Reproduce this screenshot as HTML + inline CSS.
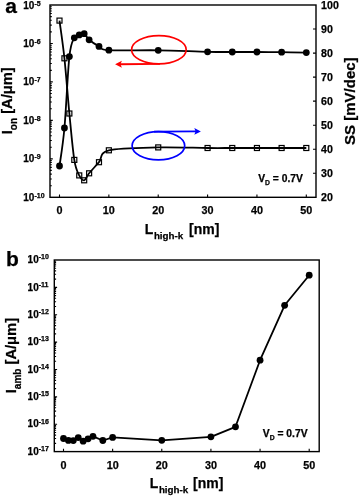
<!DOCTYPE html>
<html><head><meta charset="utf-8"><title>figure</title>
<style>
html,body{margin:0;padding:0;background:#fff;}
body{width:359px;height:496px;overflow:hidden;font-family:"Liberation Sans", sans-serif;}
svg{display:block;will-change:transform;}
</style></head><body>
<svg width="359" height="496" viewBox="0 0 359 496"><rect x="50.00" y="5.00" width="266.00" height="192.30" fill="none" stroke="#000" stroke-width="1.40"/>
<path d="M59.50 197.30 V194.50 M108.86 197.30 V194.50 M158.22 197.30 V194.50 M207.58 197.30 V194.50 M256.94 197.30 V194.50 M306.30 197.30 V194.50 M50.00 185.72 H51.80 M50.00 178.95 H51.80 M50.00 174.14 H51.80 M50.00 170.42 H51.80 M50.00 167.37 H51.80 M50.00 164.80 H51.80 M50.00 162.57 H51.80 M50.00 160.60 H51.80 M50.00 158.84 H52.80 M50.00 147.26 H51.80 M50.00 140.49 H51.80 M50.00 135.68 H51.80 M50.00 131.96 H51.80 M50.00 128.91 H51.80 M50.00 126.34 H51.80 M50.00 124.11 H51.80 M50.00 122.14 H51.80 M50.00 120.38 H52.80 M50.00 108.80 H51.80 M50.00 102.03 H51.80 M50.00 97.22 H51.80 M50.00 93.50 H51.80 M50.00 90.45 H51.80 M50.00 87.88 H51.80 M50.00 85.65 H51.80 M50.00 83.68 H51.80 M50.00 81.92 H52.80 M50.00 70.34 H51.80 M50.00 63.57 H51.80 M50.00 58.76 H51.80 M50.00 55.04 H51.80 M50.00 51.99 H51.80 M50.00 49.42 H51.80 M50.00 47.19 H51.80 M50.00 45.22 H51.80 M50.00 43.46 H52.80 M50.00 31.88 H51.80 M50.00 25.11 H51.80 M50.00 20.30 H51.80 M50.00 16.58 H51.80 M50.00 13.53 H51.80 M50.00 10.96 H51.80 M50.00 8.73 H51.80 M50.00 6.76 H51.80 M316.00 173.26 H313.00 M316.00 149.23 H313.00 M316.00 125.19 H313.00 M316.00 101.15 H313.00 M316.00 77.11 H313.00 M316.00 53.08 H313.00 M316.00 29.04 H313.00" stroke="#000" stroke-width="1.1" fill="none"/>
<path d="M59.50 166.00 C60.32 159.67 62.79 146.23 64.44 128.00 C66.08 109.77 67.73 71.63 69.37 56.60 C71.02 41.57 72.66 41.42 74.31 37.80 C75.95 34.18 77.60 35.58 79.24 34.90 C80.89 34.22 82.53 32.88 84.18 33.70 C85.83 34.52 86.65 37.68 89.12 39.80 C91.58 41.92 95.70 44.67 98.99 46.40 C102.28 48.13 98.99 49.55 108.86 50.20 C118.73 50.85 141.77 50.03 158.22 50.30 C174.67 50.57 195.24 51.52 207.58 51.80 C219.92 52.08 224.03 51.97 232.26 52.00 C240.49 52.03 248.71 51.97 256.94 52.00 C265.17 52.03 273.39 52.10 281.62 52.20 C289.85 52.30 302.19 52.53 306.30 52.60" stroke="#000" stroke-width="1.8" fill="none"/>
<path d="M59.50 20.60 C60.32 26.88 62.79 42.82 64.44 58.30 C66.08 73.78 67.73 96.57 69.37 113.50 C71.02 130.43 72.66 149.58 74.31 159.90 C75.95 170.22 77.60 172.00 79.24 175.40 C80.89 178.80 82.53 180.65 84.18 180.30 C85.83 179.95 86.65 176.32 89.12 173.30 C91.58 170.28 95.70 166.03 98.99 162.20 C102.28 158.37 98.99 152.77 108.86 150.30 C118.73 147.83 141.77 147.78 158.22 147.40 C174.67 147.02 195.24 147.90 207.58 148.00 C219.92 148.10 224.03 148.00 232.26 148.00 C240.49 148.00 248.71 148.00 256.94 148.00 C265.17 148.00 273.39 148.00 281.62 148.00 C289.85 148.00 302.19 148.00 306.30 148.00" stroke="#000" stroke-width="1.8" fill="none"/>
<rect x="57.00" y="18.10" width="5" height="5" fill="none" stroke="#000" stroke-width="1.2"/>
<rect x="61.94" y="55.80" width="5" height="5" fill="none" stroke="#000" stroke-width="1.2"/>
<rect x="66.87" y="111.00" width="5" height="5" fill="none" stroke="#000" stroke-width="1.2"/>
<rect x="71.81" y="157.40" width="5" height="5" fill="none" stroke="#000" stroke-width="1.2"/>
<rect x="76.74" y="172.90" width="5" height="5" fill="none" stroke="#000" stroke-width="1.2"/>
<rect x="81.68" y="177.80" width="5" height="5" fill="none" stroke="#000" stroke-width="1.2"/>
<rect x="86.62" y="170.80" width="5" height="5" fill="none" stroke="#000" stroke-width="1.2"/>
<rect x="96.49" y="159.70" width="5" height="5" fill="none" stroke="#000" stroke-width="1.2"/>
<rect x="106.36" y="147.80" width="5" height="5" fill="none" stroke="#000" stroke-width="1.2"/>
<rect x="155.72" y="144.90" width="5" height="5" fill="none" stroke="#000" stroke-width="1.2"/>
<rect x="205.08" y="145.50" width="5" height="5" fill="none" stroke="#000" stroke-width="1.2"/>
<rect x="229.76" y="145.50" width="5" height="5" fill="none" stroke="#000" stroke-width="1.2"/>
<rect x="254.44" y="145.50" width="5" height="5" fill="none" stroke="#000" stroke-width="1.2"/>
<rect x="279.12" y="145.50" width="5" height="5" fill="none" stroke="#000" stroke-width="1.2"/>
<rect x="303.80" y="145.50" width="5" height="5" fill="none" stroke="#000" stroke-width="1.2"/>
<circle cx="59.50" cy="166.00" r="3.4" fill="#000"/>
<circle cx="64.44" cy="128.00" r="3.4" fill="#000"/>
<circle cx="69.37" cy="56.60" r="3.4" fill="#000"/>
<circle cx="74.31" cy="37.80" r="3.4" fill="#000"/>
<circle cx="79.24" cy="34.90" r="3.4" fill="#000"/>
<circle cx="84.18" cy="33.70" r="3.4" fill="#000"/>
<circle cx="89.12" cy="39.80" r="3.4" fill="#000"/>
<circle cx="98.99" cy="46.40" r="3.4" fill="#000"/>
<circle cx="108.86" cy="50.20" r="3.4" fill="#000"/>
<circle cx="158.22" cy="50.30" r="3.4" fill="#000"/>
<circle cx="207.58" cy="51.80" r="3.4" fill="#000"/>
<circle cx="232.26" cy="52.00" r="3.4" fill="#000"/>
<circle cx="256.94" cy="52.00" r="3.4" fill="#000"/>
<circle cx="281.62" cy="52.20" r="3.4" fill="#000"/>
<circle cx="306.30" cy="52.60" r="3.4" fill="#000"/>
<ellipse cx="158.9" cy="49.75" rx="27.3" ry="14.15" fill="none" stroke="#fe0000" stroke-width="1.6"/>
<path d="M160 63.9 L120 64.3" stroke="#fe0000" stroke-width="1.9" fill="none"/>
<path d="M115.1 64.3 L121.9 60.8 L120.5 64.3 L121.9 67.8 Z" fill="#fe0000"/>
<ellipse cx="158.4" cy="145.75" rx="26.3" ry="14.15" fill="none" stroke="#0000fe" stroke-width="1.7"/>
<path d="M154 131.6 L196 131.4" stroke="#0000fe" stroke-width="1.9" fill="none"/>
<path d="M200.9 131.4 L194.3 128.1 L195.6 131.4 L194.3 134.7 Z" fill="#0000fe"/>
<rect x="54.30" y="260.00" width="264.90" height="191.60" fill="none" stroke="#000" stroke-width="1.40"/>
<path d="M63.50 451.60 V448.80 M112.64 451.60 V448.80 M161.78 451.60 V448.80 M210.92 451.60 V448.80 M260.06 451.60 V448.80 M309.20 451.60 V448.80 M54.30 443.36 H56.10 M54.30 438.54 H56.10 M54.30 435.12 H56.10 M54.30 432.47 H56.10 M54.30 430.30 H56.10 M54.30 428.47 H56.10 M54.30 426.88 H56.10 M54.30 425.48 H56.10 M54.30 424.23 H57.10 M54.30 415.99 H56.10 M54.30 411.17 H56.10 M54.30 407.75 H56.10 M54.30 405.10 H56.10 M54.30 402.93 H56.10 M54.30 401.10 H56.10 M54.30 399.51 H56.10 M54.30 398.11 H56.10 M54.30 396.86 H57.10 M54.30 388.62 H56.10 M54.30 383.80 H56.10 M54.30 380.38 H56.10 M54.30 377.73 H56.10 M54.30 375.56 H56.10 M54.30 373.73 H56.10 M54.30 372.14 H56.10 M54.30 370.74 H56.10 M54.30 369.49 H57.10 M54.30 361.25 H56.10 M54.30 356.43 H56.10 M54.30 353.01 H56.10 M54.30 350.35 H56.10 M54.30 348.19 H56.10 M54.30 346.35 H56.10 M54.30 344.77 H56.10 M54.30 343.37 H56.10 M54.30 342.11 H57.10 M54.30 333.87 H56.10 M54.30 329.05 H56.10 M54.30 325.64 H56.10 M54.30 322.98 H56.10 M54.30 320.82 H56.10 M54.30 318.98 H56.10 M54.30 317.40 H56.10 M54.30 316.00 H56.10 M54.30 314.74 H57.10 M54.30 306.50 H56.10 M54.30 301.68 H56.10 M54.30 298.26 H56.10 M54.30 295.61 H56.10 M54.30 293.44 H56.10 M54.30 291.61 H56.10 M54.30 290.02 H56.10 M54.30 288.62 H56.10 M54.30 287.37 H57.10 M54.30 279.13 H56.10 M54.30 274.31 H56.10 M54.30 270.89 H56.10 M54.30 268.24 H56.10 M54.30 266.07 H56.10 M54.30 264.24 H56.10 M54.30 262.65 H56.10 M54.30 261.25 H56.10" stroke="#000" stroke-width="1.1" fill="none"/>
<path d="M63.50 438.50 L68.41 440.40 L73.33 440.60 L78.24 437.60 L83.16 441.20 L88.07 438.80 L92.98 436.30 L102.81 440.50 L112.64 437.40 L161.78 440.30 L210.92 436.80 L235.49 426.80 L260.06 360.20 L284.63 305.30 L309.20 275.20" stroke="#000" stroke-width="1.8" fill="none" stroke-linejoin="round"/>
<circle cx="63.50" cy="438.50" r="3.4" fill="#000"/>
<circle cx="68.41" cy="440.40" r="3.4" fill="#000"/>
<circle cx="73.33" cy="440.60" r="3.4" fill="#000"/>
<circle cx="78.24" cy="437.60" r="3.4" fill="#000"/>
<circle cx="83.16" cy="441.20" r="3.4" fill="#000"/>
<circle cx="88.07" cy="438.80" r="3.4" fill="#000"/>
<circle cx="92.98" cy="436.30" r="3.4" fill="#000"/>
<circle cx="102.81" cy="440.50" r="3.4" fill="#000"/>
<circle cx="112.64" cy="437.40" r="3.4" fill="#000"/>
<circle cx="161.78" cy="440.30" r="3.4" fill="#000"/>
<circle cx="210.92" cy="436.80" r="3.4" fill="#000"/>
<circle cx="235.49" cy="426.80" r="3.4" fill="#000"/>
<circle cx="260.06" cy="360.20" r="3.4" fill="#000"/>
<circle cx="284.63" cy="305.30" r="3.4" fill="#000"/>
<circle cx="309.20" cy="275.20" r="3.4" fill="#000"/><g font-family='"Liberation Sans", sans-serif' font-weight="bold" fill="#000" stroke="#000" stroke-width="0.25"><text x="5.2" y="12.9" font-size="21">a</text>
<text x="23.3" y="8.90" font-size="10">10<tspan font-size="7" dy="-3.1">-5</tspan></text>
<text x="23.3" y="46.86" font-size="10">10<tspan font-size="7" dy="-3.1">-6</tspan></text>
<text x="23.3" y="85.32" font-size="10">10<tspan font-size="7" dy="-3.1">-7</tspan></text>
<text x="23.3" y="123.78" font-size="10">10<tspan font-size="7" dy="-3.1">-8</tspan></text>
<text x="23.3" y="162.24" font-size="10">10<tspan font-size="7" dy="-3.1">-9</tspan></text>
<text x="23.3" y="200.70" font-size="10">10<tspan font-size="7" dy="-3.1">-10</tspan></text>
<text x="321.1" y="201.00" font-size="10.6">20</text>
<text x="321.1" y="176.96" font-size="10.6">30</text>
<text x="321.1" y="152.93" font-size="10.6">40</text>
<text x="321.1" y="128.89" font-size="10.6">50</text>
<text x="321.1" y="104.85" font-size="10.6">60</text>
<text x="321.1" y="80.81" font-size="10.6">70</text>
<text x="321.1" y="56.78" font-size="10.6">80</text>
<text x="321.1" y="32.74" font-size="10.6">90</text>
<text x="321.1" y="8.70" font-size="10.6">100</text>
<text x="59.50" y="214.3" font-size="10.8" text-anchor="middle">0</text>
<text x="108.86" y="214.3" font-size="10.8" text-anchor="middle">10</text>
<text x="158.22" y="214.3" font-size="10.8" text-anchor="middle">20</text>
<text x="207.58" y="214.3" font-size="10.8" text-anchor="middle">30</text>
<text x="256.94" y="214.3" font-size="10.8" text-anchor="middle">40</text>
<text x="306.30" y="214.3" font-size="10.8" text-anchor="middle">50</text>
<text y="233.9" font-size="14"><tspan x="144.8">L</tspan><tspan x="153.9" font-size="9.8" dy="5">high-k</tspan><tspan x="189" dy="-5">[nm]</tspan></text>
<text transform="translate(11.5 100.8) rotate(-90)" font-size="14.7" text-anchor="middle">I<tspan font-size="10" dy="5">on</tspan><tspan dy="-5"> [A/μm]</tspan></text>
<text transform="translate(355.1 101.2) rotate(-90)" font-size="15" text-anchor="middle">SS [mV/dec]</text>
<text x="258.2" y="181.7" font-size="10.3">V<tspan font-size="6.8" dy="3">D</tspan><tspan dy="-3"> = 0.7V</tspan></text>
<text x="5.9" y="265.5" font-size="21">b</text>
<text x="27.6" y="263.20" font-size="10">10<tspan font-size="7" dy="-3.9">-10</tspan></text>
<text x="27.6" y="290.57" font-size="10">10<tspan font-size="7" dy="-3.9">-11</tspan></text>
<text x="27.6" y="317.94" font-size="10">10<tspan font-size="7" dy="-3.9">-12</tspan></text>
<text x="27.6" y="345.31" font-size="10">10<tspan font-size="7" dy="-3.9">-13</tspan></text>
<text x="27.6" y="372.69" font-size="10">10<tspan font-size="7" dy="-3.9">-14</tspan></text>
<text x="27.6" y="400.06" font-size="10">10<tspan font-size="7" dy="-3.9">-15</tspan></text>
<text x="27.6" y="427.43" font-size="10">10<tspan font-size="7" dy="-3.9">-16</tspan></text>
<text x="27.6" y="454.80" font-size="10">10<tspan font-size="7" dy="-3.9">-17</tspan></text>
<text x="63.50" y="468.6" font-size="10.8" text-anchor="middle">0</text>
<text x="112.64" y="468.6" font-size="10.8" text-anchor="middle">10</text>
<text x="161.78" y="468.6" font-size="10.8" text-anchor="middle">20</text>
<text x="210.92" y="468.6" font-size="10.8" text-anchor="middle">30</text>
<text x="260.06" y="468.6" font-size="10.8" text-anchor="middle">40</text>
<text x="309.20" y="468.6" font-size="10.8" text-anchor="middle">50</text>
<text y="488.1" font-size="14"><tspan x="149.8">L</tspan><tspan x="158.9" font-size="9.8" dy="5">high-k</tspan><tspan x="193" dy="-5">[nm]</tspan></text>
<text transform="translate(16 355.6) rotate(-90)" font-size="14.7" text-anchor="middle">I<tspan font-size="10" dy="5">amb</tspan><tspan dy="-5"> [A/μm]</tspan></text>
<text x="262.8" y="436.6" font-size="10.3">V<tspan font-size="6.8" dy="3">D</tspan><tspan dy="-3"> = 0.7V</tspan></text></g></svg>
</body></html>
